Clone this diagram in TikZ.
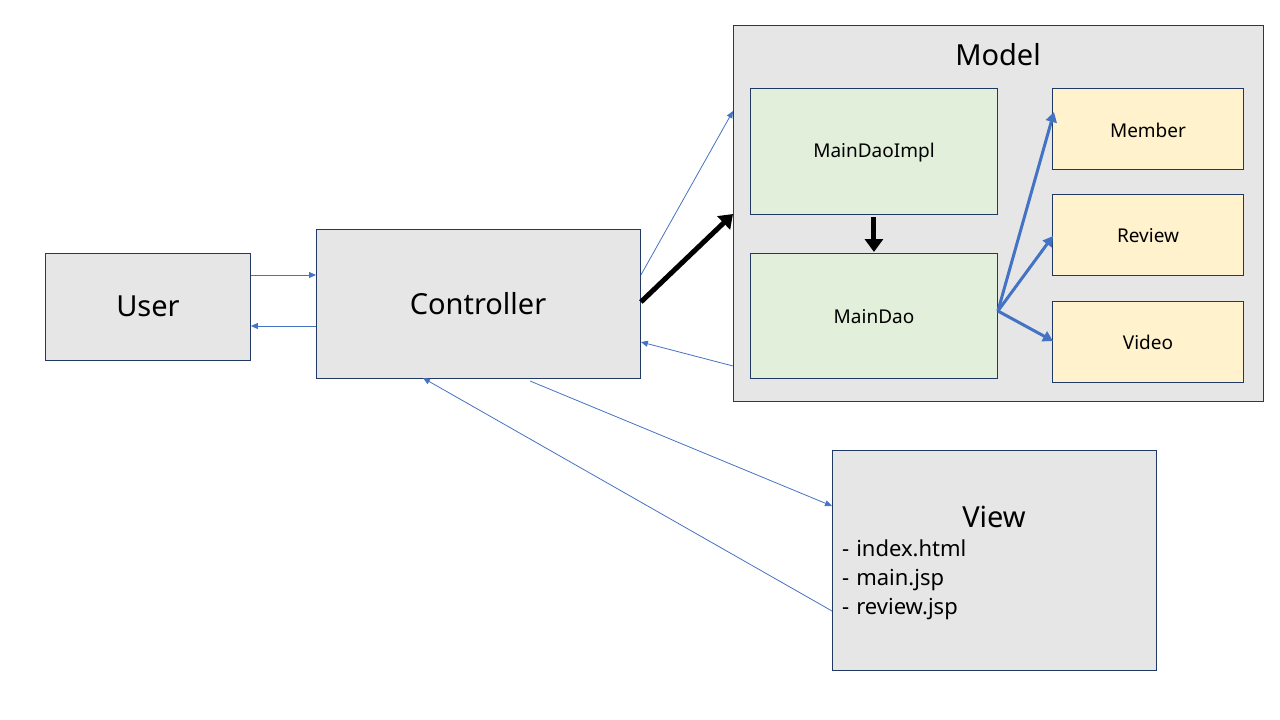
\documentclass[tikz,border=0pt]{standalone}
\usepackage{fontspec}
\setmainfont{Noto Sans}
\usetikzlibrary{arrows.meta}
\definecolor{boxgray}{HTML}{E6E6E6}
\definecolor{boxline}{HTML}{1F3864}
\definecolor{greenfill}{HTML}{E2EFDA}
\definecolor{yellowfill}{HTML}{FFF2CC}
\definecolor{officeblue}{HTML}{4472C4}
\tikzset{
  x=1pt, y=-1pt,
  box/.style={draw=boxline, line width=0.9pt, anchor=north west, inner sep=0pt, align=center},
  graybox/.style={box, fill=boxgray},
  greenbox/.style={box, fill=greenfill},
  yellowbox/.style={box, fill=yellowfill},
  bigtext/.style={font=\fontsize{29}{34}\selectfont},
  smalltext/.style={font=\fontsize{19}{23}\selectfont},
  thinarrow/.style={draw=officeblue, line width=0.8pt, -{Triangle[length=7pt,width=6pt]}},
  bluearrow/.style={draw=officeblue, line width=3pt, -{Triangle[length=10pt,width=11pt]}},
  blackarrow/.style={draw=black, line width=5pt, -{Triangle[length=13pt,width=18pt]}},
}
\begin{document}
\begin{tikzpicture}
\useasboundingbox (0,0) rectangle (1280,720);
% boxes
\node[graybox, minimum width=205pt, minimum height=107pt] (user) at (45,253) {};
\node[bigtext] (usertext) at (148,306) {User};
\node[graybox, minimum width=324pt, minimum height=149pt] (ctrl) at (316,229) {};
\node[bigtext] (ctrltext) at (478,304) {Controller};
\node[graybox, minimum width=530pt, minimum height=376pt] (model) at (733,25) {};
\node[bigtext] (modeltitle) at (998,55) {Model};
\node[greenbox, minimum width=247pt, minimum height=126pt] (impl) at (750,88) {};
\node[smalltext] (impltext) at (874,153) {MainDaoImpl};
\node[greenbox, minimum width=247pt, minimum height=125pt] (dao) at (750,253) {};
\node[smalltext] (daotext) at (874,317) {MainDao};
\node[yellowbox, minimum width=191pt, minimum height=81pt] (member) at (1052,88) {};
\node[smalltext] (membertext) at (1148,130) {Member};
\node[yellowbox, minimum width=191pt, minimum height=81pt] (review) at (1052,194) {};
\node[smalltext] (reviewtext) at (1148,236) {Review};
\node[yellowbox, minimum width=191pt, minimum height=81pt] (video) at (1052,301) {};
\node[smalltext] (videotext) at (1148,342) {Video};
\node[graybox, minimum width=324pt, minimum height=220pt] (view) at (832,450) {};
\node[bigtext] (viewtitle) at (994,517) {View};
\node[font=\fontsize{22}{29}\selectfont, anchor=north west, align=left, inner sep=0pt] (viewlist) at (842,540) {-\hspace{7pt}index.html\\-\hspace{7pt}main.jsp\\-\hspace{7pt}review.jsp};
% coordinates for connectors
\coordinate (uo) at (user.east |- 0,275);
\coordinate (ci) at (ctrl.west |- 0,275);
\coordinate (co) at (ctrl.west |- 0,326);
\coordinate (ui) at (user.east |- 0,326);
\coordinate (c1) at (ctrl.east |- 0,275);
\coordinate (m1) at (model.west |- 0,111);
\coordinate (c2) at (ctrl.east |- 0,302);
\coordinate (m2) at (model.west |- 0,214);
\coordinate (m3) at (model.west |- 0,366);
\coordinate (c3) at (ctrl.east |- 0,342);
\coordinate (d0) at (dao.east |- 0,311);
\coordinate (cb) at (530,381);
\coordinate (vt) at (view.west |- 0,506);
\coordinate (vb) at (view.west |- 0,611);
\coordinate (cb2) at (423,378);
% connectors
\draw[thinarrow] (uo) -- (ci);
\draw[thinarrow] (co) -- (ui);
\draw[thinarrow] (c1) -- (m1);
\draw[blackarrow] (c2) -- (m2);
\draw[thinarrow] (m3) -- (c3);
\draw[blackarrow] (impl.south) ++(0,2) -- ([yshift=1pt]dao.north);
\draw[bluearrow] (d0) -- ([xshift=2pt,yshift=4pt]member.west |- 0,116);
\draw[bluearrow] (d0) -- ([xshift=1pt]review.west |- 0,236);
\draw[bluearrow] (d0) -- ([xshift=1pt]video.west |- 0,341);
\draw[thinarrow] (cb) -- (vt);
\draw[thinarrow] (vb) -- (cb2);
\end{tikzpicture}
\end{document}
